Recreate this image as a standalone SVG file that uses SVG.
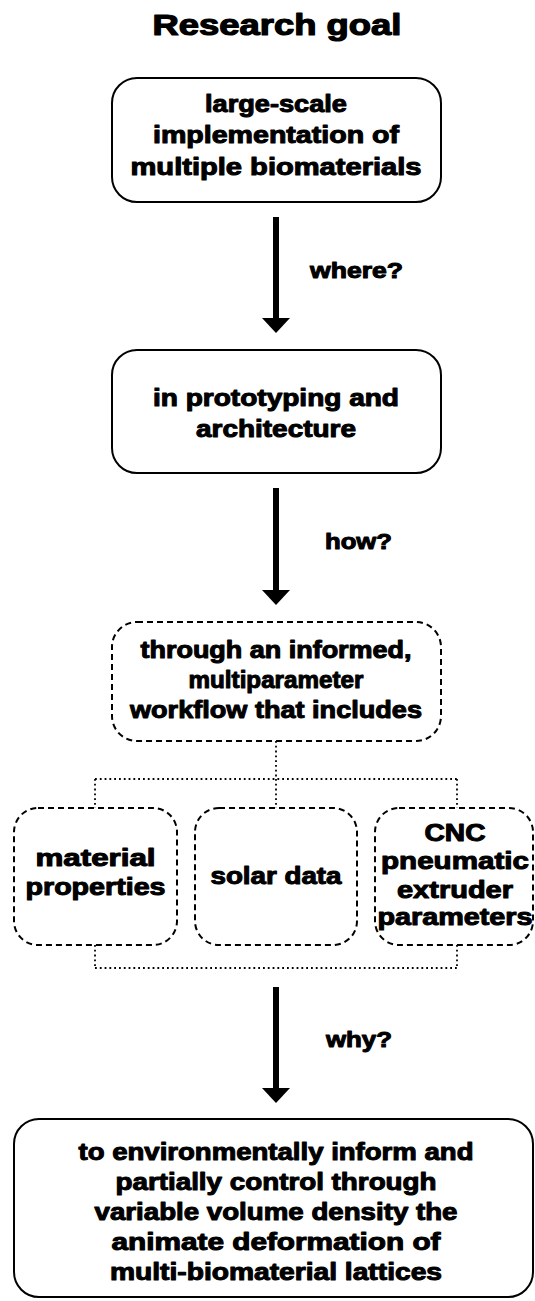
<svg xmlns="http://www.w3.org/2000/svg" width="535" height="1301" viewBox="0 0 535 1301">
<style>
text{font-family:"Liberation Sans",Arial,sans-serif;font-weight:bold;fill:#000;stroke:#000;stroke-width:1;stroke-linejoin:round;text-anchor:middle;font-size:23px}
.title{font-size:29px;stroke-width:1.2}
.lbl{font-size:21.5px}
.solid{fill:#fff;stroke:#000;stroke-width:2}
.dashed{fill:#fff;stroke:#000;stroke-width:2;stroke-dasharray:6 4}
.dot{fill:none;stroke:#000;stroke-width:1.8;stroke-dasharray:1.8 3}
.arrow{stroke:#000;stroke-width:6;fill:none;marker-end:url(#ah)}
</style>
<defs>
<marker id="ah" viewBox="0 -14 15 28" refX="0" refY="0" markerWidth="15" markerHeight="28" markerUnits="userSpaceOnUse" orient="auto">
<path d="M0,-14 L15,0 L0,14 Z" fill="#000"/>
</marker>
</defs>
<rect width="535" height="1301" fill="#fff"/>
<text class="title" x="277" y="35" textLength="249" lengthAdjust="spacingAndGlyphs">Research goal</text>

<g id="connectors">
<line class="arrow" x1="276" y1="217" x2="276" y2="318"/>
<line class="arrow" x1="276" y1="488" x2="276" y2="590"/>
<line class="arrow" x1="276" y1="987" x2="276" y2="1088"/>
<path class="dot" d="M276,741 V779 M95,779 H457 M95,779 V808 M276,779 V808 M457,779 V808"/>
<path class="dot" d="M95,945 V968 M457,945 V968 M95,968 H457"/>
<text class="lbl" x="356.5" y="278" textLength="93" lengthAdjust="spacingAndGlyphs">where?</text>
<text class="lbl" x="358.5" y="549" textLength="67" lengthAdjust="spacingAndGlyphs">how?</text>
<text class="lbl" x="359" y="1047" textLength="66" lengthAdjust="spacingAndGlyphs">why?</text>
</g>

<g id="goal">
<rect class="solid" x="112" y="78" width="329" height="124" rx="25"/>
<text x="276" y="112" textLength="142" lengthAdjust="spacingAndGlyphs">large-scale</text>
<text x="276" y="143" textLength="246" lengthAdjust="spacingAndGlyphs">implementation of</text>
<text x="276" y="175" textLength="291" lengthAdjust="spacingAndGlyphs">multiple biomaterials</text>
</g>

<g id="where">
<rect class="solid" x="112" y="350" width="329" height="123" rx="25"/>
<text x="276" y="406" textLength="246" lengthAdjust="spacingAndGlyphs">in prototyping and</text>
<text x="276" y="437" textLength="160" lengthAdjust="spacingAndGlyphs">architecture</text>
</g>

<g id="how">
<rect class="dashed" x="112" y="622" width="329" height="119" rx="25"/>
<text x="276" y="658" textLength="271" lengthAdjust="spacingAndGlyphs">through an informed,</text>
<text x="276" y="688" textLength="175" lengthAdjust="spacingAndGlyphs">multiparameter</text>
<text x="276" y="718" textLength="292" lengthAdjust="spacingAndGlyphs">workflow that includes</text>
</g>

<g id="material">
<rect class="dashed" x="14" y="808" width="163" height="137" rx="24"/>
<text x="95.5" y="866" textLength="120" lengthAdjust="spacingAndGlyphs">material</text>
<text x="95.5" y="895" textLength="140" lengthAdjust="spacingAndGlyphs">properties</text>
</g>

<g id="solar">
<rect class="dashed" x="195" y="808" width="162" height="137" rx="24"/>
<text x="276" y="884" textLength="131" lengthAdjust="spacingAndGlyphs">solar data</text>
</g>

<g id="cnc">
<rect class="dashed" x="375" y="808" width="158" height="137" rx="24"/>
<text x="455" y="841" textLength="61" lengthAdjust="spacingAndGlyphs">CNC</text>
<text x="455" y="869" textLength="148" lengthAdjust="spacingAndGlyphs">pneumatic</text>
<text x="455" y="898" textLength="116" lengthAdjust="spacingAndGlyphs">extruder</text>
<text x="455" y="925" textLength="155" lengthAdjust="spacingAndGlyphs">parameters</text>
</g>

<g id="why">
<rect class="solid" x="14" y="1119" width="519" height="178" rx="25"/>
<text x="276" y="1159.5" textLength="395" lengthAdjust="spacingAndGlyphs">to environmentally inform and</text>
<text x="276" y="1189.5" textLength="321" lengthAdjust="spacingAndGlyphs">partially control through</text>
<text x="276" y="1220" textLength="363" lengthAdjust="spacingAndGlyphs">variable volume density the</text>
<text x="276" y="1250" textLength="329" lengthAdjust="spacingAndGlyphs">animate deformation of</text>
<text x="276" y="1280" textLength="332" lengthAdjust="spacingAndGlyphs">multi-biomaterial lattices</text>
</g>
</svg>
